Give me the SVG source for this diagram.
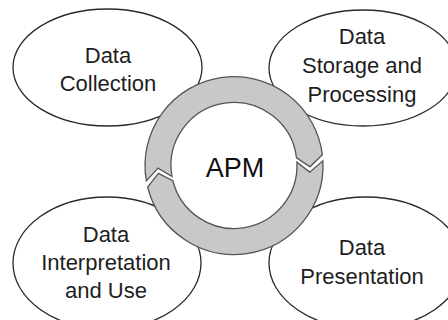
<svg xmlns="http://www.w3.org/2000/svg" width="448" height="320" viewBox="0 0 448 320">
<style>
.node ellipse{fill:#fff;stroke:#2a2a2a;stroke-width:1.3}
.lbl{font-family:"Liberation Sans",Arial,sans-serif;font-size:22px;fill:#1e1e1e;text-anchor:middle}
.ring{fill:#c8c8c8;stroke:#555;stroke-width:1.3;stroke-linejoin:miter}
</style>
<rect width="448" height="320" fill="#fff"/>
<g id="collection" class="node">
<ellipse cx="107.5" cy="67.5" rx="94.5" ry="58.5"/>
<text class="lbl" x="108" y="63">Data</text>
<text class="lbl" x="108" y="91">Collection</text>
</g>
<g id="storage" class="node">
<ellipse cx="363" cy="68" rx="94" ry="58"/>
<text class="lbl" x="362" y="44">Data</text>
<text class="lbl" x="362" y="73">Storage and</text>
<text class="lbl" x="362" y="102">Processing</text>
</g>
<g id="interpretation" class="node">
<ellipse cx="107" cy="263" rx="94" ry="66"/>
<text class="lbl" x="106" y="242">Data</text>
<text class="lbl" x="106" y="270">Interpretation</text>
<text class="lbl" x="106" y="298">and Use</text>
</g>
<g id="presentation" class="node">
<ellipse cx="366" cy="263" rx="97" ry="66"/>
<text class="lbl" x="362" y="255">Data</text>
<text class="lbl" x="362" y="284">Presentation</text>
</g>
<g id="connectors">
<path class="ring" d="M146.35,180.95 A89,89 0 1 1 322.34,154.65 L309.99,166.83 L296.53,157.82 A63,63 0 1 0 171.96,176.44 L158.05,168.15 Z"/>
<path class="ring" d="M322.88,160.84 A89,89 0 0 1 147.64,187.03 L158.42,173.44 L172.87,180.74 A63,63 0 0 0 296.91,162.20 L309.71,172.12 Z"/>
</g>
<g id="apm">
<text x="235" y="177" style="font-family:'Liberation Sans',Arial,sans-serif;font-size:27px;fill:#111;text-anchor:middle">APM</text>
</g>
</svg>
